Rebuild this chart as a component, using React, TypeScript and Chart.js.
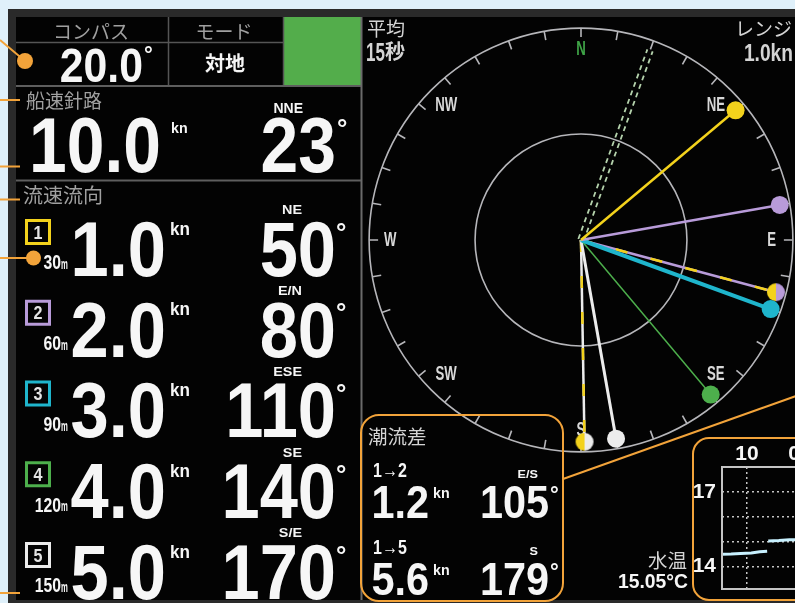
import React, { useEffect, useRef } from "react";
import { Chart, registerables } from "chart.js";

Chart.register(...registerables);

// ================= data =================
const COMPASS_LABEL = "コンパス";
const COMPASS_HEADING = 20.0;
const MODE_LABEL = "モード";
const MODE_VALUE = "対地";
const SHIP_LABEL = "船速針路";
const SHIP_SPEED = 10.0;
const SHIP_COURSE = 23;
const SHIP_COURSE_POINT = "NNE";
const CURRENT_LABEL = "流速流向";
const LAYER_IDS = ["1", "2", "3", "4", "5"];
const LAYER_DEPTHS = [30, 60, 90, 120, 150];
const LAYER_SPEEDS = [1.0, 2.0, 3.0, 4.0, 5.0];
const LAYER_DIRECTIONS = [50, 80, 110, 140, 170];
const LAYER_POINTS = ["NE", "E/N", "ESE", "SE", "S/E"];
const DIFF_LABEL = "潮流差";
const DIFF_PAIRS = ["1→2", "1→5"];
const DIFF_FROM = [0, 0];
const DIFF_TO = [1, 4];
const DIFF_SPEEDS = [1.2, 5.6];
const DIFF_DIRECTIONS = [105, 179];
const DIFF_POINTS = ["E/S", "S"];
const AVERAGE_LABEL = "平均";
const AVERAGE_SECONDS = 15;
const RANGE_LABEL = "レンジ";
const RANGE_KN = 1.0;
const COMPASS_POINTS = ["N", "NE", "E", "SE", "S", "SW", "W", "NW"];
const TEMP_LABEL = "水温";
const WATER_TEMP = 15.05;
const TEMP_MINUTES = [12.4, 11.5, 10.6, 9.6, 8.8, 8.1, 8.05, 8.0, 7.0, 6.0, 5.0, 4.0, 3.0, 2.0, 1.0, 0.0];
const TEMP_VALUES = [14.5, 14.51, 14.53, 14.55, 14.6, 14.62, null, 15.03, 15.05, 15.08, 15.08, 15.06, 15.05, 15.05, 15.05, 15.05];
const TEMP_Y_TICKS = [14, 15, 16, 17];
const TEMP_Y_LABELS = [14, 17];
const TEMP_X_TICKS = [10, 5];

// ================= style =================
const LATIN = "'Liberation Sans', Arial, sans-serif";
const JP = "'Noto Sans CJK JP', 'Noto Sans CJK SC', sans-serif";
const WHITE = "#f6f6f6";
const GRAY = "#a0a0a0";
const LIGHT = "#d4d4d4";
const ORANGE = "#f2a33a";
const LAYER_COLORS = ["#f3d21c", "#b89bd9", "#1fb5cc", "#4daf4c", "#ececec"];
const LAYER_WIDTHS = [2.5, 2.5, 4, 1.5, 3];
const AXIS_LIMIT = 1.115;
const RING_OUTER = 1.05;
const RING_INNER = 0.525;
const LABEL_RADIUS = 0.945;
const HEADING_GAP = 0.014;

Chart.defaults.font.family = LATIN;

const rad = (d: number) => (d * Math.PI) / 180;
const toXY = (deg: number, r: number) => ({ x: r * Math.sin(rad(deg)), y: r * Math.cos(rad(deg)) });
const clampR = (s: number) => Math.min(s, RANGE_KN) / RANGE_KN;

function halfDot(left: string, right: string, r: number) {
  const c = document.createElement("canvas");
  const s = Math.ceil(r * 2) + 2;
  c.width = s;
  c.height = s;
  const g = c.getContext("2d")!;
  const m = s / 2;
  g.fillStyle = left;
  g.beginPath();
  g.arc(m, m, r, Math.PI / 2, Math.PI * 1.5);
  g.fill();
  g.fillStyle = right;
  g.beginPath();
  g.arc(m, m, r, -Math.PI / 2, Math.PI / 2);
  g.fill();
  return c;
}

const radarDeco = {
  id: "radarDeco",
  beforeDatasetsDraw(chart: any) {
    const { ctx, scales } = chart;
    const cx = scales.x.getPixelForValue(0);
    const cy = scales.y.getPixelForValue(0);
    const unit = scales.x.getPixelForValue(1) - cx;
    ctx.save();
    ctx.strokeStyle = "#b6b6ba";
    ctx.lineWidth = 1.6;
    [RING_OUTER, RING_INNER].forEach((r) => {
      ctx.beginPath();
      ctx.arc(cx, cy, r * unit, 0, Math.PI * 2);
      ctx.stroke();
    });
    const ro = RING_OUTER * unit;
    ctx.beginPath();
    for (let d = 0; d < 360; d += 10) {
      const s = Math.sin(rad(d));
      const c = Math.cos(rad(d));
      ctx.moveTo(cx + ro * s, cy - ro * c);
      ctx.lineTo(cx + (ro - 9) * s, cy - (ro - 9) * c);
    }
    ctx.stroke();
    ctx.textAlign = "center";
    ctx.textBaseline = "middle";
    ctx.font = `bold 20px ${LATIN}`;
    COMPASS_POINTS.forEach((p, i) => {
      const a = rad(i * 45);
      const x = cx + LABEL_RADIUS * unit * Math.sin(a);
      const y = cy - LABEL_RADIUS * unit * Math.cos(a);
      ctx.save();
      ctx.translate(x, y);
      ctx.scale(0.66, 1);
      ctx.fillStyle = p === "N" ? "#3fa447" : "#d8d8d8";
      ctx.fillText(p, 0, 0);
      ctx.restore();
    });
    ctx.restore();
  },
};

const tempFrame = {
  id: "tempFrame",
  afterDatasetsDraw(chart: any) {
    const { ctx, chartArea: a } = chart;
    ctx.save();
    ctx.strokeStyle = "#c4c4c4";
    ctx.lineWidth = 2;
    ctx.strokeRect(a.left, a.top, a.right - a.left, a.bottom - a.top);
    ctx.restore();
  },
};

function radarConfig(): any {
  const datasets: any[] = [];
  // compass heading (double dashed line)
  [-1, 1].forEach((side) => {
    const a = rad(COMPASS_HEADING);
    const ox = side * HEADING_GAP * Math.cos(a);
    const oy = -side * HEADING_GAP * Math.sin(a);
    const end = toXY(COMPASS_HEADING, clampR(RANGE_KN));
    datasets.push({
      data: [{ x: ox, y: oy }, { x: end.x + ox, y: end.y + oy }],
      showLine: true,
      borderColor: "#b4d2ac",
      borderWidth: 1.8,
      borderDash: [5, 4],
      pointRadius: 0,
      order: 30,
    });
  });
  LAYER_SPEEDS.forEach((s, i) => {
    const end = toXY(LAYER_DIRECTIONS[i], clampR(s));
    datasets.push({
      label: LAYER_IDS[i],
      data: [{ x: 0, y: 0 }, end],
      showLine: true,
      borderColor: LAYER_COLORS[i],
      backgroundColor: LAYER_COLORS[i],
      borderWidth: LAYER_WIDTHS[i],
      pointRadius: [0, 9],
      pointBorderWidth: 0,
      pointBackgroundColor: LAYER_COLORS[i],
      order: i + 1,
    });
  });
  DIFF_SPEEDS.forEach((s, j) => {
    const end = toXY(DIFF_DIRECTIONS[j], clampR(s));
    const cA = LAYER_COLORS[DIFF_FROM[j]];
    const cB = LAYER_COLORS[DIFF_TO[j]];
    datasets.push({
      label: DIFF_PAIRS[j],
      data: [{ x: 0, y: 0 }, end],
      showLine: true,
      borderColor: cB,
      borderWidth: 2.5,
      pointRadius: 0,
      order: 12,
    });
    const dot = halfDot(cA, cB, 9);
    datasets.push({
      data: [{ x: 0, y: 0 }, end],
      showLine: true,
      borderColor: cA,
      borderWidth: 2.5,
      borderDash: [12, 24],
      pointRadius: [0, 9],
      pointBorderWidth: 0,
      pointStyle: (c: any) => (c.dataIndex === 1 ? dot : "circle"),
      order: 11,
    });
  });
  return {
    type: "scatter",
    data: { datasets },
    options: {
      responsive: false,
      maintainAspectRatio: false,
      animation: false,
      events: [],
      layout: { padding: 0, autoPadding: false },
      plugins: { legend: { display: false }, tooltip: { enabled: false } },
      scales: {
        x: { type: "linear", min: -AXIS_LIMIT, max: AXIS_LIMIT, display: false },
        y: { type: "linear", min: -AXIS_LIMIT, max: AXIS_LIMIT, display: false },
      },
    },
    plugins: [radarDeco],
  };
}

function tempConfig(): any {
  return {
    type: "line",
    data: {
      datasets: [
        {
          label: TEMP_LABEL,
          data: TEMP_MINUTES.map((m, i) => ({ x: m, y: TEMP_VALUES[i] })),
          borderColor: "#c8f1ff",
          borderWidth: 3,
          pointRadius: 0,
          spanGaps: false,
          tension: 0,
        },
      ],
    },
    options: {
      responsive: false,
      maintainAspectRatio: false,
      animation: false,
      events: [],
      layout: { padding: { left: 0, right: 0, top: 0, bottom: 11 }, autoPadding: false },
      plugins: { legend: { display: false }, tooltip: { enabled: false } },
      scales: {
        x: {
          type: "linear",
          position: "top",
          reverse: true,
          min: 0,
          max: 12.36,
          afterBuildTicks: (s: any) => {
            s.ticks = TEMP_X_TICKS.map((v) => ({ value: v }));
          },
          afterFit: (s: any) => {
            s.height = 27;
            s.paddingLeft = 0;
            s.paddingRight = 0;
          },
          ticks: {
            color: WHITE,
            padding: 0,
            maxRotation: 0,
            font: { size: 21, weight: "bold" },
            callback: (v: any) => String(v).padStart(2, "0"),
          },
          grid: { color: "#c4c4c4", lineWidth: 1.5, drawTicks: false },
          border: { display: false, dash: [2, 3] },
        },
        y: {
          type: "linear",
          min: 13.1,
          max: 18,
          afterBuildTicks: (s: any) => {
            s.ticks = TEMP_Y_TICKS.map((v) => ({ value: v }));
          },
          afterFit: (s: any) => {
            s.width = 30;
            s.paddingTop = 0;
            s.paddingBottom = 0;
          },
          ticks: {
            color: WHITE,
            padding: 6,
            font: { size: 21, weight: "bold" },
            callback: (v: any) => (TEMP_Y_LABELS.includes(v) ? String(v) : ""),
          },
          grid: { color: "#c4c4c4", lineWidth: 1.5, drawTicks: false },
          border: { display: false, dash: [2, 3] },
        },
      },
    },
    plugins: [tempFrame],
  };
}

type TxtProps = {
  text: React.ReactNode;
  x: number;
  base: number;
  fs: number;
  align?: "left" | "right" | "center";
  sx?: number;
  color?: string;
  weight?: number;
  jp?: boolean;
};

function Txt({ text, x, base, fs, align = "left", sx = 1, color = WHITE, weight = 700, jp = false }: TxtProps) {
  const k = jp ? 0.936 : 0.8465;
  const shift = align === "right" ? " translateX(-100%)" : align === "center" ? " translateX(-50%)" : "";
  return (
    <span
      style={{
        position: "absolute",
        left: x,
        top: base - k * fs,
        fontSize: fs,
        lineHeight: `${fs}px`,
        fontFamily: jp ? JP : LATIN,
        fontWeight: weight,
        color,
        whiteSpace: "nowrap",
        transform: `scaleX(${sx})${shift}`,
        transformOrigin: "0 0",
      }}
    >
      {text}
    </span>
  );
}

// baseline helpers
const cb = (capTop: number, fs: number) => capTop + 0.716 * fs;
const jb = (inkTop: number, fs: number) => inkTop + 0.83 * fs;
const rowTop = (i: number) => 219 + 80.75 * i;

export default function App() {
  const radarRef = useRef<HTMLCanvasElement>(null);
  const tempRef = useRef<HTMLCanvasElement>(null);

  useEffect(() => {
    const radar = new Chart(radarRef.current!, radarConfig());
    const temp = new Chart(tempRef.current!, tempConfig());
    return () => {
      radar.destroy();
      temp.destroy();
    };
  }, []);

  const lineGray = "#555555";

  return (
    <div style={{ position: "fixed", left: 0, top: 0, width: 795, height: 603, overflow: "hidden", background: "#dff0fa" }}>
      <svg width={795} height={603} style={{ position: "absolute", left: 0, top: 0 }}>
        <rect x={8} y={9} width={800} height={600} fill="#2a2a2a" />
        <rect x={16} y={17} width={790} height={583} fill="#030303" />
        <rect x={284} y={17} width={77} height={68} fill="#53ad4b" />
        <line x1={16} y1={42.5} x2={283} y2={42.5} stroke={lineGray} strokeWidth={1.5} />
        <line x1={168.5} y1={17} x2={168.5} y2={86} stroke={lineGray} strokeWidth={1.5} />
        <line x1={283.5} y1={17} x2={283.5} y2={86} stroke={lineGray} strokeWidth={1.5} />
        <line x1={16} y1={86} x2={361} y2={86} stroke="#5e5e5e" strokeWidth={2} />
        <line x1={16} y1={180.5} x2={361} y2={180.5} stroke="#5e5e5e" strokeWidth={2} />
        <line x1={361.5} y1={17} x2={361.5} y2={600} stroke="#6a6a6a" strokeWidth={2} />
        {LAYER_IDS.map((id, i) => (
          <rect key={id} x={26.5} y={rowTop(i) + 1.5} width={23} height={23} fill="none" stroke={LAYER_COLORS[i]} strokeWidth={3} />
        ))}
      </svg>

      <canvas ref={radarRef} width={450} height={450} style={{ position: "absolute", left: 356, top: 15, width: 450, height: 450 }} />
      <canvas ref={tempRef} width={161} height={160} style={{ position: "absolute", left: 692, top: 440, width: 161, height: 160 }} />

      <svg width={795} height={603} style={{ position: "absolute", left: 0, top: 0 }}>
        <g stroke={ORANGE} strokeWidth={2} fill="none">
          <line x1={0} y1={40} x2={25} y2={61} />
          <line x1={0} y1={100} x2={20} y2={100} />
          <line x1={0} y1={166.5} x2={20} y2={166.5} />
          <line x1={0} y1={199.5} x2={20} y2={199.5} />
          <line x1={0} y1={258} x2={33} y2={258} />
          <line x1={0} y1={593} x2={20} y2={593} />
          <rect x={361} y={415} width={202} height={186} rx={18} />
          <rect x={693} y={438} width={140} height={162} rx={16} />
          <line x1={563} y1={479} x2={796} y2={396} />
        </g>
        <circle cx={25} cy={61} r={8} fill={ORANGE} />
        <circle cx={33.5} cy={258} r={7.5} fill={ORANGE} />
      </svg>

      {/* top block */}
      <Txt text={COMPASS_LABEL} x={91} base={jb(23, 19)} fs={19} align="center" jp weight={400} color={GRAY} />
      <Txt text={MODE_LABEL} x={224} base={jb(23, 19)} fs={19} align="center" jp weight={400} color={GRAY} />
      <Txt text={COMPASS_HEADING.toFixed(1)} x={143} base={cb(48, 47.5)} fs={47.5} align="right" sx={0.9} />
      <Txt text="°" x={144} base={cb(47, 22)} fs={22} />
      <Txt text={MODE_VALUE} x={225} base={jb(55, 20)} fs={20} align="center" jp weight={700} />

      {/* ship */}
      <Txt text={SHIP_LABEL} x={26} base={jb(92, 19)} fs={19} jp weight={400} color={GRAY} />
      <Txt text={SHIP_SPEED.toFixed(1)} x={161} base={cb(117, 77)} fs={77} align="right" sx={0.88} />
      <Txt text="kn" x={171} base={cb(122, 15)} fs={15} sx={0.95} />
      <Txt text={SHIP_COURSE_POINT} x={303} base={cb(103, 14)} fs={14} align="right" />
      <Txt text={String(SHIP_COURSE)} x={336} base={cb(117, 77)} fs={77} align="right" sx={0.88} />
      <Txt text="°" x={337} base={cb(118, 26)} fs={26} />

      {/* currents */}
      <Txt text={CURRENT_LABEL} x={23} base={jb(187, 20)} fs={20} jp weight={400} color={GRAY} />
      {LAYER_IDS.map((id, i) => {
        const R = rowTop(i);
        return (
          <React.Fragment key={id}>
            <Txt text={id} x={38} base={cb(R + 6, 19)} fs={19} align="center" sx={0.85} color="#e4e4e4" />
            <Txt text={String(LAYER_DEPTHS[i])} x={61} base={cb(R + 35, 21)} fs={21} align="right" sx={0.75} />
            <Txt text="m" x={61} base={cb(R + 35, 21)} fs={14} sx={0.55} />
            <Txt text={LAYER_SPEEDS[i].toFixed(1)} x={166} base={cb(R + 1, 78)} fs={78} align="right" sx={0.88} />
            <Txt text="kn" x={170} base={cb(R + 3, 18)} fs={18} sx={0.95} />
            <Txt text={LAYER_POINTS[i]} x={302} base={cb(R - 13, 12.5)} fs={12.5} align="right" sx={1.15} />
            <Txt text={String(LAYER_DIRECTIONS[i])} x={336} base={cb(R + 1, 78)} fs={78} align="right" sx={0.88} />
            <Txt text="°" x={336} base={cb(R + 3, 26)} fs={26} />
          </React.Fragment>
        );
      })}

      {/* radar header */}
      <Txt text={AVERAGE_LABEL} x={367} base={jb(20, 19)} fs={19} jp weight={400} color={LIGHT} />
      <Txt text={String(AVERAGE_SECONDS)} x={366} base={cb(43, 25)} fs={25} sx={0.68} color={LIGHT} />
      <Txt text="秒" x={385} base={jb(43, 20)} fs={20} jp weight={700} color={LIGHT} />
      <Txt text={RANGE_LABEL} x={792} base={jb(20, 19)} fs={19} align="right" jp weight={400} color={LIGHT} />
      <Txt text={`${RANGE_KN.toFixed(1)}kn`} x={793} base={cb(44, 24)} fs={24} align="right" sx={0.8} color={LIGHT} />

      {/* tidal difference */}
      <Txt text={DIFF_LABEL} x={368} base={jb(428, 19.5)} fs={19.5} jp weight={400} color={LIGHT} />
      {DIFF_PAIRS.map((p, j) => {
        const off = j * 77;
        return (
          <React.Fragment key={p}>
            <Txt text={p} x={373} base={cb(463 + off, 20)} fs={20} sx={0.8} />
            <Txt text={DIFF_SPEEDS[j].toFixed(1)} x={429} base={cb(485 + off, 46)} fs={46} align="right" sx={0.9} />
            <Txt text="kn" x={433} base={cb(487 + off, 15)} fs={15} sx={0.95} />
            <Txt text={DIFF_POINTS[j]} x={538} base={cb(470 + off, 11)} fs={11} align="right" sx={1.15} />
            <Txt text={String(DIFF_DIRECTIONS[j])} x={549} base={cb(485 + off, 46)} fs={46} align="right" sx={0.9} />
            <Txt text="°" x={550} base={cb(487 + off, 22)} fs={22} />
          </React.Fragment>
        );
      })}

      {/* water temperature */}
      <Txt text={TEMP_LABEL} x={687} base={jb(552, 19.5)} fs={19.5} align="right" jp weight={400} color={LIGHT} />
      <Txt text={`${WATER_TEMP.toFixed(2)}°C`} x={688} base={cb(573, 21)} fs={21} align="right" sx={0.92} />
    </div>
  );
}
